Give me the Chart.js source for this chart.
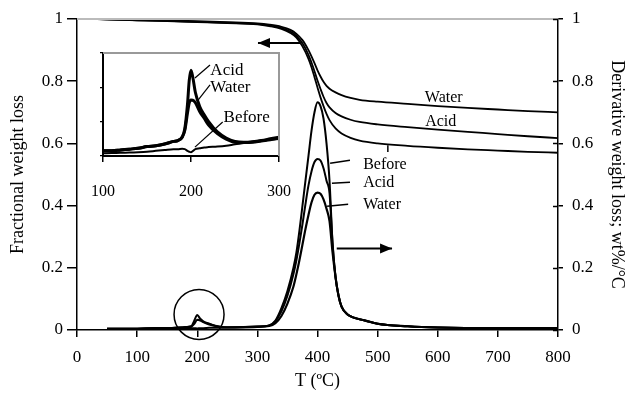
<!DOCTYPE html>
<html>
<head>
<meta charset="utf-8">
<script src="https://cdn.jsdelivr.net/npm/chart.js@4.4.0/dist/chart.umd.min.js"></script>
<style>
  body { margin: 0; background: #fff; }
  #wrap { position: relative; width: 629px; height: 395px; }
  #inset { position: absolute; left: 83px; top: 45px; }
</style>
</head>
<body>
<div id="wrap">
  <canvas id="Chart" width="629" height="395"></canvas>
  <canvas id="inset" width="210" height="160"></canvas>
</div>
<script>
// weight loss curves (left axis)
var tgT = [25, 50, 100, 150, 200, 250, 300, 320, 340, 355, 365, 375, 385, 390, 395, 400, 405, 410, 415, 420, 430, 440, 455, 470, 500, 550, 600, 650, 700, 750, 800];
var tgWater = [1.0, 0.999, 0.997, 0.995, 0.993, 0.99, 0.986, 0.982, 0.975, 0.965, 0.952, 0.932, 0.9, 0.88, 0.858, 0.835, 0.815, 0.798, 0.785, 0.776, 0.764, 0.755, 0.746, 0.74, 0.734, 0.727, 0.72, 0.714, 0.709, 0.704, 0.70];
var tgAcid = [1.0, 0.999, 0.996, 0.994, 0.991, 0.988, 0.984, 0.979, 0.971, 0.96, 0.946, 0.922, 0.885, 0.86, 0.832, 0.802, 0.775, 0.75, 0.73, 0.716, 0.698, 0.687, 0.676, 0.669, 0.661, 0.652, 0.644, 0.637, 0.63, 0.623, 0.617];
var tgBefore = [1.0, 0.999, 0.996, 0.993, 0.99, 0.987, 0.983, 0.977, 0.968, 0.955, 0.94, 0.912, 0.872, 0.845, 0.813, 0.78, 0.748, 0.72, 0.695, 0.675, 0.648, 0.632, 0.618, 0.609, 0.6, 0.592, 0.586, 0.581, 0.577, 0.573, 0.57];

// derivative curves (right axis)
var dtgT = [50, 100, 130, 150, 180, 190, 195, 200, 205, 210, 220, 230, 250, 300, 320, 330, 340, 350, 360, 365, 370, 375, 380, 385, 390, 395, 400, 405, 410, 415, 420, 425, 430, 435, 440, 450, 460, 480, 500, 550, 600, 700, 800];
var dtgBefore = [0.004, 0.004, 0.005, 0.005, 0.006, 0.006, 0.006, 0.005, 0.006, 0.006, 0.007, 0.007, 0.008, 0.01, 0.015, 0.03, 0.07, 0.125, 0.2, 0.25, 0.32, 0.4, 0.48, 0.56, 0.64, 0.7, 0.732, 0.72, 0.68, 0.6, 0.48, 0.28, 0.17, 0.11, 0.075, 0.05, 0.04, 0.03, 0.02, 0.012, 0.008, 0.006, 0.006];
var dtgAcid = [0.004, 0.004, 0.006, 0.006, 0.009, 0.012, 0.03, 0.048, 0.036, 0.028, 0.02, 0.014, 0.009, 0.011, 0.015, 0.028, 0.06, 0.11, 0.18, 0.225, 0.28, 0.34, 0.405, 0.465, 0.51, 0.54, 0.55, 0.545, 0.52, 0.48, 0.44, 0.28, 0.17, 0.11, 0.075, 0.05, 0.04, 0.03, 0.02, 0.012, 0.008, 0.006, 0.006];
var dtgWater = [0.004, 0.004, 0.006, 0.006, 0.009, 0.011, 0.02, 0.033, 0.031, 0.026, 0.018, 0.013, 0.008, 0.011, 0.013, 0.022, 0.045, 0.085, 0.14, 0.18, 0.225, 0.275, 0.325, 0.37, 0.41, 0.435, 0.442, 0.438, 0.42, 0.39, 0.35, 0.25, 0.17, 0.11, 0.075, 0.05, 0.04, 0.03, 0.02, 0.012, 0.008, 0.006, 0.006];

// close-up of the 200 °C peak
var insetT = [100, 110, 120, 130, 140, 150, 160, 170, 180, 185, 190, 193, 196, 198, 200, 202, 205, 210, 215, 220, 230, 240, 250, 260, 270, 280, 290, 300];
var insetAcid = [0.003, 0.003, 0.0035, 0.004, 0.0045, 0.0055, 0.006, 0.007, 0.0085, 0.009, 0.011, 0.016, 0.03, 0.044, 0.05, 0.046, 0.037, 0.0287, 0.024, 0.02, 0.014, 0.0105, 0.0085, 0.008, 0.0083, 0.009, 0.01, 0.011];
var insetWater = [0.003, 0.003, 0.0035, 0.004, 0.0045, 0.0055, 0.006, 0.007, 0.0085, 0.009, 0.011, 0.015, 0.025, 0.031, 0.0326, 0.0325, 0.031, 0.0258, 0.022, 0.018, 0.013, 0.0098, 0.008, 0.0078, 0.008, 0.0088, 0.0095, 0.0105];
var insetBefore = [0.0016, 0.0017, 0.0019, 0.002, 0.0022, 0.0025, 0.003, 0.0035, 0.004, 0.004, 0.0042, 0.004, 0.003, 0.0025, 0.0022, 0.0028, 0.004, 0.0045, 0.005, 0.0052, 0.0055, 0.006, 0.0068, 0.0075, 0.0083, 0.009, 0.0095, 0.0099];

Chart.defaults.font.family = "'Liberation Serif', 'Times New Roman', serif";
Chart.defaults.color = '#000';

function pts(xs, ys) {
    return xs.map(function(x, i) { return {x: x, y: ys[i]}; });
}

function curve(label, xs, ys, axis, w) {
    return {
        label: label,
        data: pts(xs, ys),
        yAxisID: axis,
        borderColor: '#000',
        borderWidth: w,
        pointRadius: 0,
        fill: false,
        cubicInterpolationMode: 'monotone'
    };
}

// 1, 0.8, ... 0 without trailing zeros
function shortNum(v) {
    return String(parseFloat(v.toFixed(2)));
}

function arrow(ctx, x1, y1, x2, y2) {
    ctx.beginPath();
    ctx.moveTo(x1, y1);
    ctx.lineTo(x2, y2);
    ctx.stroke();
    var a = Math.atan2(y2 - y1, x2 - x1);
    ctx.beginPath();
    ctx.moveTo(x2, y2);
    ctx.lineTo(x2 - 12 * Math.cos(a) + 5 * Math.sin(a), y2 - 12 * Math.sin(a) - 5 * Math.cos(a));
    ctx.lineTo(x2 - 12 * Math.cos(a) - 5 * Math.sin(a), y2 - 12 * Math.sin(a) + 5 * Math.cos(a));
    ctx.closePath();
    ctx.fill();
}

// arrows, circle, curve labels and leader lines on the main plot
var notes = {
    id: 'notes',
    afterDraw: function(chart) {
        var ctx = chart.ctx, x = chart.scales.x, y = chart.scales.y, y1 = chart.scales.y1;
        var a = chart.chartArea;
        ctx.save();
        // light frame line along the top
        ctx.strokeStyle = '#bbb';
        ctx.lineWidth = 2;
        ctx.beginPath();
        ctx.moveTo(a.left, a.top);
        ctx.lineTo(a.right, a.top);
        ctx.stroke();
        // inner half of the right-hand ticks
        ctx.strokeStyle = '#000';
        ctx.lineWidth = 1.5;
        y1.ticks.forEach(function(t) {
            var py = Math.round(y1.getPixelForValue(t.value)) + 0.5;
            ctx.beginPath();
            ctx.moveTo(a.right - 5, py);
            ctx.lineTo(a.right, py);
            ctx.stroke();
        });
        ctx.fillStyle = '#000';
        ctx.lineWidth = 2;
        arrow(ctx, x.getPixelForValue(371), y.getPixelForValue(0.923), x.getPixelForValue(301), y.getPixelForValue(0.923));
        arrow(ctx, x.getPixelForValue(432), y1.getPixelForValue(0.262), x.getPixelForValue(524), y1.getPixelForValue(0.262));
        // ring around the small peak
        ctx.lineWidth = 1.5;
        ctx.beginPath();
        ctx.arc(x.getPixelForValue(203), y1.getPixelForValue(0.05), 25, 0, Math.PI * 2);
        ctx.stroke();
        // leader lines
        var leads = [[517, 0.594, 517, 0.572, y], [421, 0.536, 454, 0.546, y1], [424, 0.472, 454, 0.475, y1], [416, 0.398, 451, 0.404, y1]];
        ctx.lineWidth = 1.5;
        leads.forEach(function(l) {
            ctx.beginPath();
            ctx.moveTo(x.getPixelForValue(l[0]), l[4].getPixelForValue(l[1]));
            ctx.lineTo(x.getPixelForValue(l[2]), l[4].getPixelForValue(l[3]));
            ctx.stroke();
        });
        ctx.font = "16px 'Liberation Serif'";
        ctx.textBaseline = 'middle';
        ctx.textAlign = 'center';
        ctx.fillText('Water', x.getPixelForValue(610), y.getPixelForValue(0.746));
        ctx.fillText('Acid', x.getPixelForValue(605), y.getPixelForValue(0.668));
        ctx.textAlign = 'left';
        ctx.fillText('Before', x.getPixelForValue(476), y1.getPixelForValue(0.53));
        ctx.fillText('Acid', x.getPixelForValue(476), y1.getPixelForValue(0.472));
        ctx.fillText('Water', x.getPixelForValue(476), y1.getPixelForValue(0.404));
        ctx.restore();
    }
};

var main = new Chart(document.getElementById('Chart').getContext('2d'), {
    type: 'line',
    data: {
        datasets: [
            curve('Water', tgT, tgWater, 'y', 1.8),
            curve('Acid', tgT, tgAcid, 'y', 1.8),
            curve('Before', tgT, tgBefore, 'y', 1.8),
            curve('Before', dtgT, dtgBefore, 'y1', 2),
            curve('Acid', dtgT, dtgAcid, 'y1', 2),
            curve('Water', dtgT, dtgWater, 'y1', 2.2)
        ]
    },
    options: {
        responsive: false,
        animation: false,
        layout: { autoPadding: false, padding: { top: 19, left: 0, right: 0, bottom: 0 } },
        plugins: { legend: { display: false }, tooltip: { enabled: false } },
        scales: {
            x: {
                type: 'linear',
                min: 0,
                max: 800,
                ticks: { stepSize: 100, font: { size: 17 }, padding: 10, maxRotation: 0 },
                grid: { drawOnChartArea: false, tickLength: 7, color: '#000', lineWidth: 1.5 },
                border: { color: '#000', width: 1.5 },
                title: { display: true, text: 'T (ºC)', font: { size: 18 }, padding: { top: 0, bottom: 3 } },
                afterFit: function(s) { s.height = 65; s.paddingLeft = 0; s.paddingRight = 0; }
            },
            y: {
                position: 'left',
                min: 0,
                max: 1,
                ticks: { stepSize: 0.2, font: { size: 17 }, padding: 4, callback: shortNum },
                grid: { drawOnChartArea: false, tickLength: 10, color: '#000', lineWidth: 1.5 },
                border: { color: '#000', width: 1.5 },
                title: { display: true, text: 'Fractional weight loss', font: { size: 18 }, padding: { top: 7, bottom: 0 } },
                afterFit: function(s) { s.width = 77; s.paddingTop = 0; s.paddingBottom = 0; }
            },
            y1: {
                position: 'right',
                min: 0,
                max: 1,
                ticks: { stepSize: 0.2, font: { size: 17 }, padding: 9, callback: shortNum },
                grid: { drawOnChartArea: false, tickLength: 5, color: '#000', lineWidth: 1.5 },
                border: { color: '#000', width: 1.5 },
                title: { display: true, text: 'Derivative weight loss; wt%/°C', font: { size: 18 }, padding: { top: 1, bottom: 0 } },
                afterFit: function(s) { s.width = 71; s.paddingTop = 0; s.paddingBottom = 0; }
            }
        }
    },
    plugins: [notes]
});

// frame and labels of the close-up
var insetNotes = {
    id: 'insetNotes',
    afterDraw: function(chart) {
        var ctx = chart.ctx, x = chart.scales.x, y = chart.scales.y, a = chart.chartArea;
        ctx.save();
        ctx.strokeStyle = '#999';
        ctx.lineWidth = 2;
        ctx.beginPath();
        ctx.moveTo(a.left, a.top);
        ctx.lineTo(a.right, a.top);
        ctx.lineTo(a.right, a.bottom);
        ctx.stroke();
        ctx.strokeStyle = '#000';
        ctx.lineWidth = 1.2;
        var leads = [[204.5, 0.0454, 221.6, 0.053], [208, 0.0326, 221.6, 0.0414], [204.5, 0.0052, 236, 0.0198]];
        leads.forEach(function(l) {
            ctx.beginPath();
            ctx.moveTo(x.getPixelForValue(l[0]), y.getPixelForValue(l[1]));
            ctx.lineTo(x.getPixelForValue(l[2]), y.getPixelForValue(l[3]));
            ctx.stroke();
        });
        ctx.fillStyle = '#000';
        ctx.font = "17px 'Liberation Serif'";
        ctx.textBaseline = 'middle';
        ctx.textAlign = 'left';
        ctx.fillText('Acid', x.getPixelForValue(222), y.getPixelForValue(0.05));
        ctx.fillText('Water', x.getPixelForValue(222), y.getPixelForValue(0.0396));
        ctx.fillText('Before', x.getPixelForValue(237), y.getPixelForValue(0.0227));
        ctx.restore();
    }
};

var inset = new Chart(document.getElementById('inset').getContext('2d'), {
    type: 'line',
    data: {
        datasets: [
            curve('Acid', insetT, insetAcid, 'y', 3),
            curve('Water', insetT, insetWater, 'y', 3),
            curve('Before', insetT, insetBefore, 'y', 2)
        ]
    },
    options: {
        responsive: false,
        animation: false,
        layout: { autoPadding: false, padding: { top: 8, left: 0, right: 14, bottom: 0 } },
        plugins: { legend: { display: false }, tooltip: { enabled: false } },
        scales: {
            x: {
                type: 'linear',
                min: 100,
                max: 300,
                ticks: { stepSize: 100, font: { size: 16 }, padding: 20, maxRotation: 0 },
                grid: { drawOnChartArea: false, tickLength: 6, color: '#000', lineWidth: 1.5 },
                border: { color: '#000', width: 2 },
                afterFit: function(s) { s.height = 49; s.paddingLeft = 0; s.paddingRight = 0; }
            },
            y: {
                min: 0,
                max: 0.06,
                ticks: { stepSize: 0.01, callback: function() { return ''; } },
                grid: { drawOnChartArea: false, tickLength: 3, color: '#000', lineWidth: 1.2 },
                border: { color: '#000', width: 2 },
                afterFit: function(s) { s.width = 20; s.paddingTop = 0; s.paddingBottom = 0; }
            }
        }
    },
    plugins: [insetNotes]
});
</script>
</body>
</html>
